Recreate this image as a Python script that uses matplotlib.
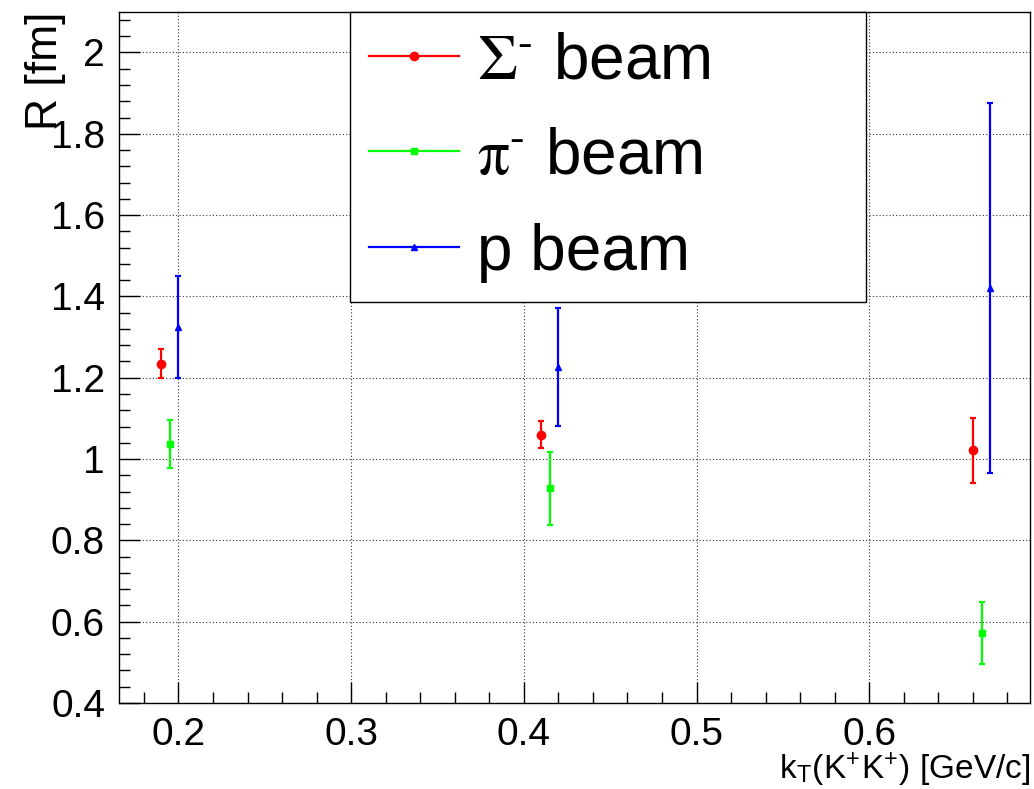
import matplotlib
matplotlib.use("Agg")
import matplotlib.pyplot as plt
from matplotlib.lines import Line2D
from matplotlib.ticker import MultipleLocator

plt.rcParams['font.family'] = ['Liberation Sans', 'DejaVu Sans']
plt.rcParams['mathtext.fontset'] = 'stix'

# data
kt_sigma = [0.19, 0.41, 0.66]
R_sigma = [1.235, 1.060, 1.022]
err_sigma = [0.035, 0.034, 0.080]

kt_pi = [0.195, 0.415, 0.665]
R_pi = [1.037, 0.928, 0.573]
err_pi = [0.060, 0.090, 0.076]

kt_p = [0.20, 0.42, 0.67]
R_p = [1.325, 1.226, 1.420]
err_p = [0.125, 0.145, 0.455]

labels = [r'$\Sigma^{\text{-}}$ beam', r'$\mathrm{\pi}^{\text{-}}$ beam', 'p beam']

fig = plt.figure(figsize=(10.34, 7.89), dpi=100)
ax = fig.add_axes([0.115, 0.109, 0.881, 0.876])

ax.errorbar(kt_sigma, R_sigma, yerr=err_sigma, fmt='o', color='#ff0000', ms=6,
            elinewidth=1.6, capsize=2.5, capthick=1.6, zorder=3)
ax.errorbar(kt_pi, R_pi, yerr=err_pi, fmt='s', color='#00ff00', ms=5,
            elinewidth=1.6, capsize=2.5, capthick=1.6, zorder=3)
ax.errorbar(kt_p, R_p, yerr=err_p, fmt='^', color='#0000ff', ms=5,
            elinewidth=1.6, capsize=2.5, capthick=1.6, zorder=3)

ax.set_xlim(0.1655, 0.693)
ax.set_ylim(0.4, 2.1)
ax.xaxis.set_minor_locator(MultipleLocator(0.02))
ax.yaxis.set_minor_locator(MultipleLocator(0.04))
ax.set_xticks([0.2, 0.3, 0.4, 0.5, 0.6])
ax.set_xticklabels(['0.2', '0.3', '0.4', '0.5', '0.6'])
ax.set_yticks([0.4, 0.6, 0.8, 1.0, 1.2, 1.4, 1.6, 1.8, 2.0])
ax.set_yticklabels(['0.4', '0.6', '0.8', '1', '1.2', '1.4', '1.6', '1.8', '2'])

ax.tick_params(which='both', direction='in', top=False, right=False, labelsize=28, width=1)
ax.tick_params(which='major', length=15, pad=10)
ax.tick_params(which='minor', length=8)
for s in ax.spines.values():
    s.set_linewidth(1.0)

ax.grid(True, which='major', linestyle=(0, (1, 2)), color='#333333', linewidth=0.8)
ax.set_axisbelow(True)

ax.set_xlabel(r'k$_\mathregular{T}$(K$^\mathregular{+}$K$^\mathregular{+}$) [GeV/c]',
              fontsize=24, loc='right')
ax.xaxis.set_label_coords(1.0, -0.068)
ax.set_ylabel('R [fm]', fontsize=32, loc='top')
ax.yaxis.set_label_coords(-0.058, 1.0)

handles = [
    Line2D([], [], color='#ff0000', marker='o', ms=6, lw=1.6),
    Line2D([], [], color='#00ff00', marker='s', ms=5, lw=1.6),
    Line2D([], [], color='#0000ff', marker='^', ms=5, lw=1.6),
]
leg = ax.legend(handles, labels, loc='upper left',
                bbox_to_anchor=(0.2536, 0.5876, 0.5664, 0.4124), mode='expand',
                fontsize=46, numpoints=1, handlelength=1.41, handletextpad=0.28,
                borderpad=0.3, labelspacing=0.56, borderaxespad=0.0,
                fancybox=False, framealpha=1, edgecolor='black')
leg.get_frame().set_linewidth(1.0)

fig.savefig('out.png', dpi=100)
